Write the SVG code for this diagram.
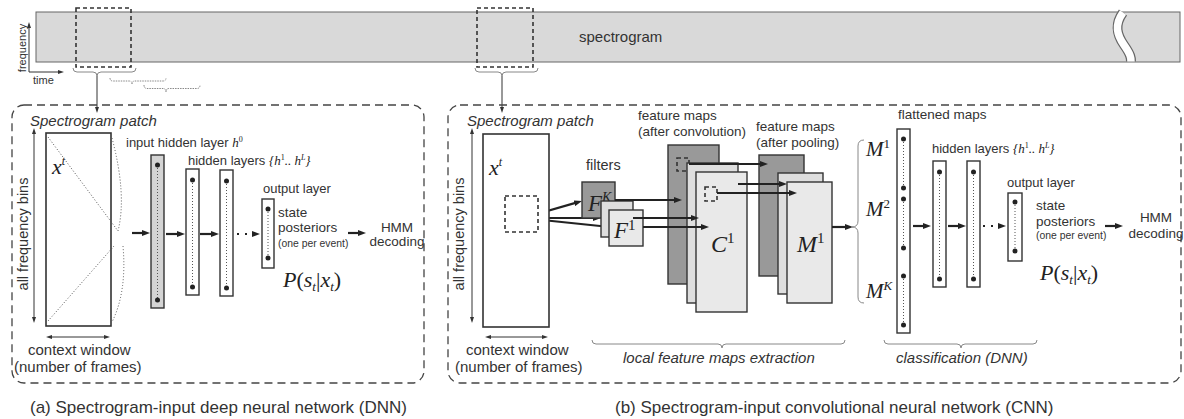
<svg xmlns="http://www.w3.org/2000/svg" width="1184" height="419" viewBox="0 0 1184 419">
<defs>
<marker id="ah" viewBox="0 0 8 6" refX="3" refY="3" markerWidth="8" markerHeight="6" markerUnits="userSpaceOnUse" orient="auto"><path d="M0,0 L8,3 L0,6 z" fill="#222"/></marker>
<marker id="as" viewBox="0 0 6 4" refX="1" refY="2" markerWidth="6" markerHeight="4" markerUnits="userSpaceOnUse" orient="auto-start-reverse"><path d="M0,0 L6,2 L0,4 z" fill="#333"/></marker>
</defs>
<style>
text{font-family:"Liberation Sans",Arial,sans-serif;fill:#333}
.t13{font-size:13px}
.t135{font-size:13.5px}
.t15{font-size:15px}
.it{font-style:italic}
.sm{font-size:10.4px}
.cap{font-size:17px}
.m{font-family:"Liberation Serif","Times New Roman",serif;font-style:italic;fill:#222}
.up{font-style:normal}
.box{fill:#fff;stroke:#333;stroke-width:1.6}
.layer{fill:#fff;stroke:#333;stroke-width:1.4}
.dk{fill:#999;stroke:#333;stroke-width:1.4}
.lt{fill:#dedede;stroke:#333;stroke-width:1.4}
.lt2{fill:#e9e9e9;stroke:#333;stroke-width:1.4}
.dot{fill:#222}
.dl{stroke:#555;stroke-width:1;stroke-dasharray:1 2;fill:none}
.arr{stroke:#222;stroke-width:2.2;fill:none;marker-end:url(#ah)}
.thin{stroke:#333;stroke-width:1;fill:none}
.dbl{stroke:#333;stroke-width:1;fill:none;marker-start:url(#as);marker-end:url(#as)}
.brace{stroke:#888;stroke-width:1;fill:none}
.panel{fill:none;stroke:#444;stroke-width:1.3;stroke-dasharray:8 5}
.dsq{fill:none;stroke:#333;stroke-width:1.6;stroke-dasharray:4 3}
</style>

<g id="spectrogram">
<rect x="36" y="12" width="1144" height="50" fill="#d9d9d9" stroke="#666" stroke-width="1"/>
<path d="M1123,12.5 C1114,25 1117,35 1124,45 S1131,58 1131,61.5" fill="none" stroke="#666" stroke-width="10"/>
<path d="M1123,12.5 C1114,25 1117,35 1124,45 S1131,58 1131,61.5" fill="none" stroke="#fff" stroke-width="7.5"/>
<text class="t15" x="579" y="42">spectrogram</text>
<rect class="dsq" x="76" y="8" width="55" height="59" stroke-width="2"/>
<rect class="dsq" x="477" y="8" width="56" height="59" stroke-width="2"/>
</g>

<g id="axes">
<line class="thin" x1="29" y1="72" x2="29" y2="27" marker-end="url(#as)"/>
<line class="thin" x1="29" y1="72" x2="59" y2="72" marker-end="url(#as)"/>
<text font-size="11" transform="translate(26,48) rotate(-90)" text-anchor="middle">frequency</text>
<text font-size="11" x="33" y="84">time</text>
</g>

<g id="top-braces">
<path class="brace" d="M73,68 Q73,72 77,72 L93,72 Q97,72 97,76 Q97,72 101,72 L132,72 Q136,72 136,68"/>
<path class="brace" d="M475,68 Q475,72 479,72 L498,72 Q502,72 502,76 Q502,72 506,72 L534,72 Q538,72 538,68"/>
<path class="brace" stroke-dasharray="1.5 1" d="M110,78 Q110,81 113,81 L129,81 Q132,81 132,84 Q132,81 135,81 L163,81 Q166,81 166,78"/>
<path class="brace" stroke-dasharray="1.5 1" d="M144,85 Q144,88.5 147,88.5 L163,88.5 Q166,88.5 166,92 Q166,88.5 169,88.5 L197,88.5 Q200,88.5 200,85"/>
</g>

<g id="connectors">
<line class="thin" stroke="#555" x1="97" y1="76" x2="97" y2="108" marker-end="url(#as)"/>
<line class="thin" stroke="#555" x1="502" y1="76" x2="502" y2="108" marker-end="url(#as)"/>
<line class="arr" x1="132" y1="233" x2="145" y2="233"/>
<line class="arr" x1="166" y1="234" x2="180" y2="234"/>
<line class="arr" x1="200" y1="234" x2="214" y2="234"/>
<line class="arr" x1="237" y1="234" x2="255" y2="234" stroke-dasharray="2 6" stroke-width="2"/>
<line class="arr" x1="348" y1="233" x2="361" y2="233"/>
<line class="arr" x1="523" y1="218" x2="577.2" y2="202.4"/>
<line class="arr" x1="523" y1="218" x2="596" y2="218"/>
<line class="arr" x1="523" y1="218" x2="605" y2="226.5"/>
<line class="arr" x1="913" y1="226" x2="926" y2="226"/>
<line class="arr" x1="948" y1="226" x2="961" y2="226"/>
<line class="arr" x1="983" y1="226" x2="1001" y2="226" stroke-dasharray="2 6" stroke-width="2"/>
<line class="arr" x1="1105" y1="226" x2="1118" y2="226"/>
</g>

<g id="panel-dnn">
<rect class="panel" x="12" y="105" width="412" height="278" rx="12"/>
<text class="t15 it" x="30" y="126">Spectrogram patch</text>
<rect class="box" x="46" y="133" width="65" height="193"/>
<path class="dl" d="M48,137 L118,231 M48,321 L114,246 M112,138 Q127,195 118,231 M123,246 Q127,292 112,322"/>
<text class="m" font-size="22" x="52" y="174">x<tspan font-size="12" dy="-9">t</tspan></text>
<line class="dbl" x1="34" y1="133" x2="34" y2="318"/>
<text font-size="14.5" transform="translate(28,234) rotate(-90)" text-anchor="middle">all frequency bins</text>
<line class="dbl" x1="51" y1="337" x2="105" y2="337"/>
<text class="t15" x="28" y="355">context window</text>
<text class="t15" x="14" y="372">(number of frames)</text>
</g>

<g id="dnn-input-layer">
<text class="t13" x="126" y="147">input hidden layer <tspan class="m" font-size="13">h</tspan><tspan class="m up" font-size="8" dy="-5">0</tspan></text>
<rect x="151" y="155" width="13" height="153" fill="#d4d4d4" stroke="#333" stroke-width="1.4"/>
<line class="dl" x1="157.5" y1="165" x2="157.5" y2="300"/>
<circle class="dot" cx="157.5" cy="165" r="2.5"/><circle class="dot" cx="157.5" cy="300" r="2.5"/>
</g>

<g id="dnn-hidden-layers">
<text class="t13" x="188" y="165">hidden layers <tspan class="m" font-size="13">{h</tspan><tspan class="m up" font-size="8" dy="-5">1</tspan><tspan class="m" font-size="13" dy="5">.. h</tspan><tspan class="m" font-size="8" dy="-5">L</tspan><tspan class="m" font-size="13" dy="5">}</tspan></text>
<rect class="layer" x="186" y="169" width="13" height="126"/>
<line class="dl" x1="192.5" y1="180" x2="192.5" y2="287"/>
<circle class="dot" cx="192.5" cy="180" r="2.5"/><circle class="dot" cx="192.5" cy="287" r="2.5"/>
<rect class="layer" x="220" y="170" width="13" height="126"/>
<line class="dl" x1="226.5" y1="181" x2="226.5" y2="288"/>
<circle class="dot" cx="226.5" cy="181" r="2.5"/><circle class="dot" cx="226.5" cy="288" r="2.5"/>
</g>

<g id="dnn-output-layer">
<text class="t13" x="263" y="193">output layer</text>
<rect class="layer" x="262" y="199" width="12" height="69"/>
<line class="dl" x1="268" y1="209" x2="268" y2="258"/>
<circle class="dot" cx="268" cy="209" r="2.5"/><circle class="dot" cx="268" cy="258" r="2.5"/>
<text class="t135" x="278" y="217">state</text>
<text class="t135" x="278" y="232">posteriors</text>
<text class="sm" x="278" y="247">(one per event)</text>
<text class="m" font-size="22" x="283" y="287">P<tspan class="up">(</tspan>s<tspan font-size="13" dy="4">t</tspan><tspan class="up" dy="-4">|</tspan>x<tspan font-size="13" dy="4">t</tspan><tspan class="up" dy="-4">)</tspan></text>
</g>

<g id="dnn-hmm">
<text class="t135" x="397" y="232" text-anchor="middle">HMM</text>
<text class="t135" x="397" y="246" text-anchor="middle">decoding</text>
</g>

<g id="panel-cnn">
<rect class="panel" x="448" y="105" width="733" height="278" rx="12"/>
<text class="t15 it" x="467" y="126">Spectrogram patch</text>
<rect class="box" x="483" y="134" width="66" height="193"/>
<text class="m" font-size="22" x="489" y="175">x<tspan font-size="12" dy="-9">t</tspan></text>
<rect class="dsq" x="505" y="196" width="33" height="36"/>
<line class="dbl" x1="472" y1="133" x2="472" y2="318"/>
<text font-size="14.5" transform="translate(464,234) rotate(-90)" text-anchor="middle">all frequency bins</text>
<line class="dbl" x1="490" y1="337" x2="543" y2="337"/>
<text class="t15" x="466" y="355">context window</text>
<text class="t15" x="455" y="372">(number of frames)</text>
</g>

<g id="cnn-filters">
<text font-size="14.5" x="586" y="170">filters</text>
<rect class="dk" x="582" y="182" width="33" height="36"/>
<text class="m" font-size="23" x="588" y="211">F<tspan font-size="14" dy="-9">K</tspan></text>
<rect class="lt" x="601" y="201" width="32" height="36"/>
<rect class="lt2" x="609" y="210" width="34" height="36"/>
<text class="m" font-size="23" x="614" y="238">F<tspan class="up" font-size="15" dy="-8">1</tspan></text>
</g>

<g id="cnn-conv-maps">
<text class="t135" x="638" y="120">feature maps</text>
<text class="t135" x="638" y="136">(after convolution)</text>
<rect class="dk" x="668" y="145" width="51" height="139"/>
<rect class="dsq" x="677" y="158" width="12" height="13" stroke-width="1.3"/>
<rect class="lt" x="687" y="163" width="51" height="140"/>
<rect class="lt2" x="696" y="172" width="51" height="140"/>
<rect class="dsq" x="705" y="187" width="12" height="14" stroke-width="1.3"/>
<text class="m" font-size="24" x="711" y="252">C<tspan class="up" font-size="15" dy="-9">1</tspan></text>
</g>

<g id="cnn-filter-arrows">
<line class="arr" x1="615" y1="200" x2="677" y2="200"/>
<line class="arr" x1="633" y1="218" x2="694" y2="218"/>
<line class="arr" x1="643" y1="227" x2="704" y2="227"/>
</g>

<g id="cnn-pool-maps">
<text class="t135" x="756" y="131">feature maps</text>
<text class="t135" x="756" y="147">(after pooling)</text>
<rect class="dk" x="759" y="155" width="45" height="121"/>
<rect class="lt" x="778" y="173" width="45" height="121"/>
<rect class="lt2" x="787" y="182" width="45" height="121"/>
<text class="m" font-size="24" x="797" y="252">M<tspan class="up" font-size="15" dy="-9">1</tspan></text>
</g>

<g id="cnn-pool-arrows">
<line class="arr" x1="689" y1="164" x2="763" y2="164"/>
<line class="arr" x1="738" y1="184" x2="782" y2="184"/>
<line class="arr" x1="717" y1="193" x2="792" y2="193"/>
<line class="arr" x1="832" y1="227" x2="848" y2="227"/>
</g>

<g id="cnn-flattened">
<path class="brace" d="M864,140 Q858,140 858,146 L858,221 Q858,227 852,227 Q858,227 858,233 L858,297 Q858,303 864,303"/>
<text class="m" font-size="21" x="866" y="156">M<tspan class="up" font-size="13" dy="-8">1</tspan></text>
<text class="m" font-size="21" x="866" y="216">M<tspan class="up" font-size="13" dy="-8">2</tspan></text>
<text class="m" font-size="21" x="866" y="298">M<tspan font-size="13" dy="-8">K</tspan></text>
<text class="t135" x="898" y="119">flattened maps</text>
<rect class="layer" x="897" y="129" width="13" height="204"/>
<path class="dl" d="M903.5,139 V188 M903.5,199 V248 M903.5,276 V325"/>
<circle class="dot" cx="903.5" cy="139" r="2.5"/><circle class="dot" cx="903.5" cy="188" r="2.5"/>
<circle class="dot" cx="903.5" cy="199" r="2.5"/><circle class="dot" cx="903.5" cy="248" r="2.5"/>
<circle class="dot" cx="903.5" cy="276" r="2.5"/><circle class="dot" cx="903.5" cy="325" r="2.5"/>
</g>

<g id="cnn-hidden-layers">
<text class="t13" x="932" y="153">hidden layers <tspan class="m" font-size="13">{h</tspan><tspan class="m up" font-size="8" dy="-5">1</tspan><tspan class="m" font-size="13" dy="5">.. h</tspan><tspan class="m" font-size="8" dy="-5">L</tspan><tspan class="m" font-size="13" dy="5">}</tspan></text>
<rect class="layer" x="933" y="161" width="13" height="126"/>
<line class="dl" x1="939.5" y1="172" x2="939.5" y2="279"/>
<circle class="dot" cx="939.5" cy="172" r="2.5"/><circle class="dot" cx="939.5" cy="279" r="2.5"/>
<rect class="layer" x="967" y="161" width="13" height="126"/>
<line class="dl" x1="973.5" y1="172" x2="973.5" y2="279"/>
<circle class="dot" cx="973.5" cy="172" r="2.5"/><circle class="dot" cx="973.5" cy="279" r="2.5"/>
</g>

<g id="cnn-output-layer">
<text class="t13" x="1007" y="187">output layer</text>
<rect class="layer" x="1008" y="193" width="14" height="68"/>
<line class="dl" x1="1015" y1="202" x2="1015" y2="251"/>
<circle class="dot" cx="1015" cy="202" r="2.5"/><circle class="dot" cx="1015" cy="251" r="2.5"/>
<text class="t135" x="1036" y="210">state</text>
<text class="t135" x="1036" y="226">posteriors</text>
<text class="sm" x="1036" y="239">(one per event)</text>
<text class="m" font-size="22" x="1040" y="280">P<tspan class="up">(</tspan>s<tspan font-size="13" dy="4">t</tspan><tspan class="up" dy="-4">|</tspan>x<tspan font-size="13" dy="4">t</tspan><tspan class="up" dy="-4">)</tspan></text>
</g>

<g id="cnn-hmm">
<text class="t135" x="1156" y="222" text-anchor="middle">HMM</text>
<text class="t135" x="1156" y="238" text-anchor="middle">decoding</text>
</g>

<g id="cnn-braces">
<path class="brace" d="M592,340 Q592,344 596,344 L718,344 Q722,344 722,348 Q722,344 726,344 L841,344 Q845,344 845,340"/>
<text class="t15 it" x="623" y="363">local feature maps extraction</text>
<path class="brace" d="M884,340 Q884,344 888,344 L957,344 Q961,344 961,348 Q961,344 965,344 L1033,344 Q1037,344 1037,340"/>
<text class="t15 it" x="896" y="363">classification (DNN)</text>
</g>

<g id="captions">
<text class="cap" x="30" y="413">(a) Spectrogram-input deep neural network (DNN)</text>
<text class="cap" x="615" y="413">(b) Spectrogram-input convolutional neural network (CNN)</text>
</g>
</svg>
